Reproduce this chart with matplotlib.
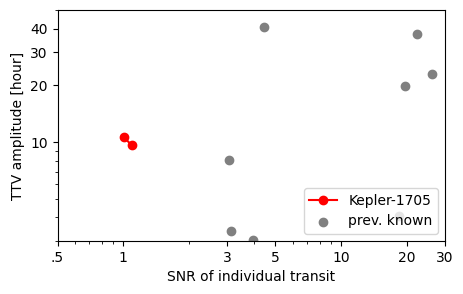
import numpy as np
import matplotlib

matplotlib.use("Agg")
import matplotlib.pyplot as plt

# Kepler-1705 (this work)
k1705_snr = [1.01, 1.096]
k1705_ttv = [10.6, 9.64]

# previously known systems
prev_snr = [3.07, 3.14, 4.45, 22.4, 26.2, 19.7, 3.96, 18.4]
prev_ttv = [8.04, 3.38, 40.7, 37.4, 23.1, 19.9, 3.02, 4.05]

xtick_vals = [0.5, 1, 3, 5, 10, 20, 30]
xtick_labels = [".5", "1", "3", "5", "10", "20", "30"]
ytick_vals = [10, 20, 30, 40]


def plot_snr_ttv():
    fig, ax = plt.subplots(figsize=(4.63, 2.94), dpi=100)
    fig.subplots_adjust(left=0.1242, right=0.9611, top=0.965, bottom=0.1803)

    ax.plot(k1705_snr, k1705_ttv, "o-", color="red", label="Kepler-1705", zorder=3)
    ax.scatter(prev_snr, prev_ttv, color="gray", label="prev. known")

    ax.set_xscale("log")
    ax.set_yscale("log")
    ax.set_xlim(0.5, 30)
    ax.set_ylim(3, 50)
    ax.set_xticks(xtick_vals)
    ax.set_xticklabels(xtick_labels)
    ax.set_yticks(ytick_vals)
    ax.set_yticklabels([str(v) for v in ytick_vals])
    ax.yaxis.set_minor_formatter(matplotlib.ticker.NullFormatter())
    ax.xaxis.set_minor_formatter(matplotlib.ticker.NullFormatter())

    ax.set_xlabel("SNR of individual transit")
    ax.set_ylabel("TTV amplitude [hour]")
    ax.legend(loc="lower right")
    fig.savefig("out.png", dpi=100)


if __name__ == "__main__":
    plot_snr_ttv()
